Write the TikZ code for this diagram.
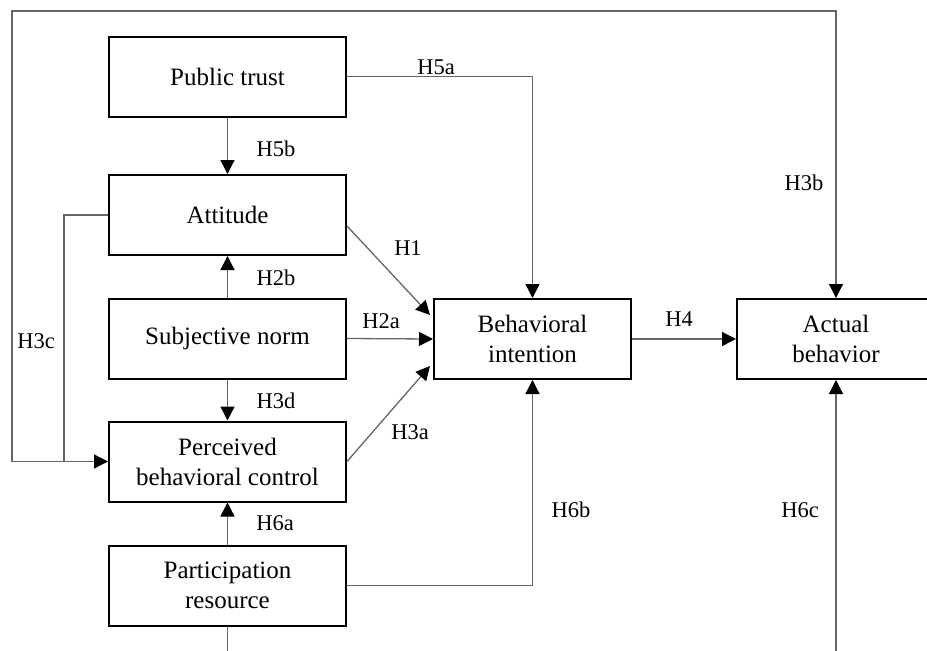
\documentclass[tikz,border=0pt]{standalone}
\usepackage{fontspec}
\setmainfont{Liberation Serif}
\usetikzlibrary{arrows.meta}
\begin{document}
\begin{tikzpicture}[x=1pt,y=-1pt,
  box/.style={draw=black,line width=2pt,rectangle,minimum width=237pt,minimum height=80pt,
    align=center,inner sep=0pt,font=\fontsize{25}{30}\selectfont},
  sbox/.style={box,minimum width=197pt},
  conn/.style={draw=black!60,line width=1.3pt},
  arr/.style={conn,-{Triangle[length=14pt,width=14pt,color=black]}},
  lab/.style={inner sep=0pt,font=\fontsize{22.5}{26}\selectfont}]
\useasboundingbox (0,0) rectangle (927,651);
\clip (0,0) rectangle (927,651);
% boxes
\node[box] (pt) at (227.5,76.5) {Public trust};
\node[box] (att) at (227.5,215) {Attitude};
\node[box] (sn) at (227.5,338.5) {Subjective norm};
\node[box] (pbc) at (227.5,461.5) {Perceived\\behavioral control};
\node[box] (pr) at (227.5,585.5) {Participation\\resource};
\node[sbox] (bi) at (532.5,339) {Behavioral\\intention};
\node[box,minimum width=198pt] (ab) at (836,339) {Actual\\behavior};
% free-end coordinates
\coordinate (j) at (64,461.5);
\coordinate (prend) at (227.5,660);
\coordinate (h6cend) at (836,660);
% connectors
\draw[arr] (pt.south) -- (att.north);
\draw[arr] (pt.east) -| (bi.north);
\draw[arr] (sn.north) -- (att.south);
\draw[arr] (sn.south) -- (pbc.north);
\draw[arr] (pr.north) -- (pbc.south);
\draw[arr] ([yshift=-11pt]att.east) -- ([xshift=-3pt,yshift=24pt]bi.west);
\draw[arr] (sn.east) -- (bi.west);
\draw[arr] (pbc.east) -- ([xshift=-3pt,yshift=-27pt]bi.west);
\draw[arr] (bi.east) -- (ab.west);
\draw[arr] (pr.east) -| (bi.south);
\draw[arr] (h6cend) -- (ab.south);
\draw[conn] (pr.south) -- (prend);
\draw[arr] (att.west) -| (j) -- (pbc.west);
\draw[arr] (j) -- (12,461.5) -- (12,11) -| (ab.north);
% labels
\node[lab] (l5a) at (436,67) {H5a};
\node[lab] (l5b) at (276,149) {H5b};
\node[lab] (l3b) at (804,183) {H3b};
\node[lab] (l1) at (408,248) {H1};
\node[lab] (l2b) at (276,278) {H2b};
\node[lab] (l2a) at (381,321) {H2a};
\node[lab] (l4) at (679,319) {H4};
\node[lab] (l3c) at (36,341) {H3c};
\node[lab] (l3d) at (276,401) {H3d};
\node[lab] (l3a) at (410,432) {H3a};
\node[lab] (l6a) at (275,523) {H6a};
\node[lab] (l6b) at (571,510) {H6b};
\node[lab] (l6c) at (800,510) {H6c};
\end{tikzpicture}
\end{document}
